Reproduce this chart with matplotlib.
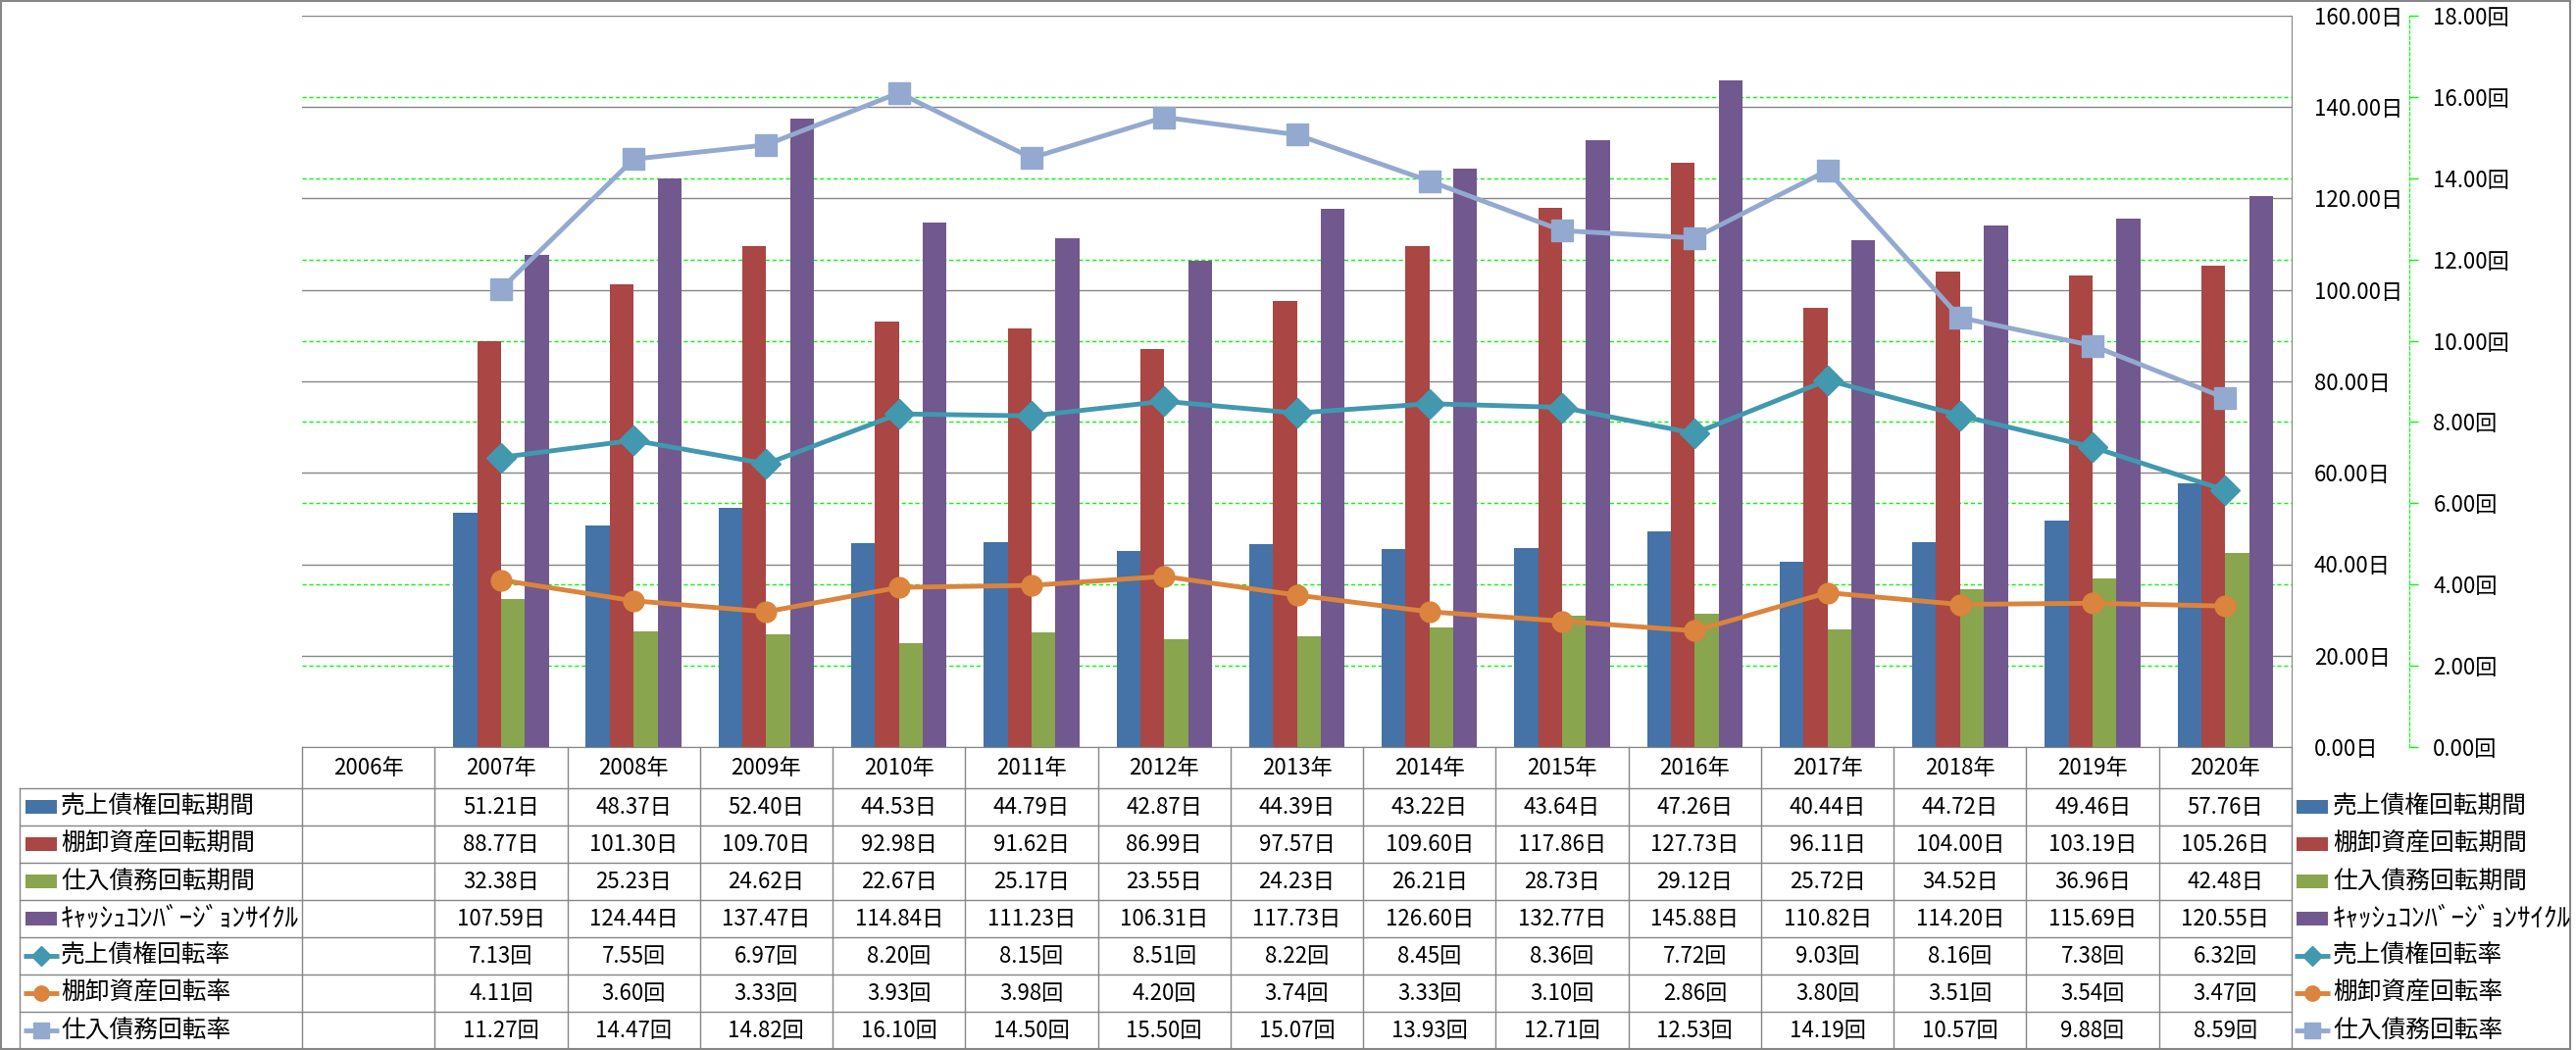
"""
Turnover periods / turnover ratios chart with an Excel-style data table.
"""

import numpy as np
import matplotlib.pyplot as plt
import matplotlib.transforms as mtransforms
from matplotlib.patches import Rectangle

plt.rcParams['font.family'] = ['Noto Sans CJK JP', 'DejaVu Sans']

# Data
years = ['2006年', '2007年', '2008年', '2009年', '2010年', '2011年', '2012年', '2013年',
         '2014年', '2015年', '2016年', '2017年', '2018年', '2019年', '2020年']

ar_days = [51.21, 48.37, 52.40, 44.53, 44.79, 42.87, 44.39, 43.22, 43.64, 47.26, 40.44, 44.72, 49.46, 57.76]
inv_days = [88.77, 101.30, 109.70, 92.98, 91.62, 86.99, 97.57, 109.60, 117.86, 127.73, 96.11, 104.00, 103.19, 105.26]
ap_days = [32.38, 25.23, 24.62, 22.67, 25.17, 23.55, 24.23, 26.21, 28.73, 29.12, 25.72, 34.52, 36.96, 42.48]
ccc_days = [107.59, 124.44, 137.47, 114.84, 111.23, 106.31, 117.73, 126.60, 132.77, 145.88, 110.82, 114.20, 115.69, 120.55]

ar_turn = [7.13, 7.55, 6.97, 8.20, 8.15, 8.51, 8.22, 8.45, 8.36, 7.72, 9.03, 8.16, 7.38, 6.32]
inv_turn = [4.11, 3.60, 3.33, 3.93, 3.98, 4.20, 3.74, 3.33, 3.10, 2.86, 3.80, 3.51, 3.54, 3.47]
ap_turn = [11.27, 14.47, 14.82, 16.10, 14.50, 15.50, 15.07, 13.93, 12.71, 12.53, 14.19, 10.57, 9.88, 8.59]

bar_series = [
    ('売上債権回転期間', ar_days, '#4572A7'),
    ('棚卸資産回転期間', inv_days, '#AA4643'),
    ('仕入債務回転期間', ap_days, '#89A54E'),
    ('ｷｬｯｼｭｺﾝﾊﾞｰｼﾞｮﾝｻｲｸﾙ', ccc_days, '#71588F'),
]
line_series = [
    ('売上債権回転率', ar_turn, '#4198AF', 'D', 15, 10),
    ('棚卸資産回転率', inv_turn, '#DB843D', 'o', 15, 11),
    ('仕入債務回転率', ap_turn, '#93A9CF', 's', 16, 12),
]

# Layout in pixels
W, H = 2627, 1071
PL, PR, PT, PB = 308, 2337, 16, 762
ROW_TOP, ROW_H = 804, 38
LAB_L = 20
GRAY = '#868686'
GREEN = '#00FF00'

fig = plt.figure(figsize=(W / 100, H / 100), dpi=100)
ax1 = fig.add_axes([PL / W, 1 - PB / H, (PR - PL) / W, (PB - PT) / H])
ax2 = ax1.twinx()

ax1.set_xlim(-0.5, len(years) - 0.5)
ax1.set_ylim(0, 160)
ax1.set_yticks(np.arange(0, 161, 20))
ax1.yaxis.set_major_formatter(lambda v, p: f'{v:.2f}日')
ax1.yaxis.tick_right()
ax1.tick_params(axis='y', length=0, pad=16.5, labelsize=16)
ax1.set_xticks([])
ax1.grid(axis='y', color=GRAY, lw=1)
ax1.set_axisbelow(True)
ax1.spines['left'].set_visible(False)
ax1.spines['top'].set_visible(False)
ax1.spines['right'].set_color(GRAY)
ax1.spines['bottom'].set_color(GRAY)

ax2.set_ylim(0, 18)
ax2.set_yticks(np.arange(0, 19, 2))
ax2.yaxis.set_major_formatter(lambda v, p: f'{v:.2f}回')
ax2.tick_params(axis='y', direction='out', length=6.5, width=1, color=GREEN, pad=11, labelsize=16)
for s in ['left', 'top', 'bottom']:
    ax2.spines[s].set_visible(False)
ax2.spines['right'].set_position(('axes', (2457 - PL) / (PR - PL)))
ax2.spines['right'].set_color(GREEN)
ax2.spines['right'].set_linestyle((0, (3, 2)))

# secondary gridlines drawn behind the bars
scale = ax1.get_ylim()[1] / ax2.get_ylim()[1]
for t in ax2.get_yticks()[1:-1]:
    ax1.axhline(t * scale, color=GREEN, lw=1, ls=(0, (3, 2)), zorder=0.8)

x = np.arange(1, len(years))
bw = 0.18
for k, (name, vals, color) in enumerate(bar_series):
    ax1.bar(x + (k - 1.5) * bw, vals, bw, color=color, zorder=2)

for name, vals, color, m, ms, _ in line_series:
    ax2.plot(x, vals, color=color, lw=3.5, marker=m, ms=ms, mfc=color, mec=color,
             zorder=3, clip_on=False)

# Overlay for the data table and legend
ov = fig.add_axes([0, 0, 1, 1])
ov.set_xlim(0, W)
ov.set_ylim(H, 0)
ov.axis('off')
ov.patch.set_alpha(0)

ov.add_patch(Rectangle((1, 1), W - 7, H - 2, fill=False, ec=GRAY, lw=1.5))

bottom = ROW_TOP + 7 * ROW_H
col_w = (PR - PL) / len(years)
for i in range(len(years) + 1):
    xx = PL + i * col_w
    ov.plot([xx, xx], [PB, bottom], color=GRAY, lw=1)
for k in range(8):
    yy = ROW_TOP + k * ROW_H
    ov.plot([LAB_L, PR], [yy, yy], color=GRAY, lw=1)
ov.plot([LAB_L, LAB_L], [ROW_TOP, bottom], color=GRAY, lw=1)

trans = mtransforms.blended_transform_factory(ax1.transData, ov.transData)
for i, yr in enumerate(years):
    ov.text(i, (PB + ROW_TOP) / 2, yr, transform=trans, ha='center', va='center', fontsize=16)

rows = [(name, vals, '日', ('bar', color)) for name, vals, color in bar_series] + \
       [(name, vals, '回', ('line', color, m, lms)) for name, vals, color, m, ms, lms in line_series]


def draw_key(x0, yc, key):
    if key[0] == 'bar':
        ov.add_patch(Rectangle((x0 + 2, yc - 7), 32, 14, color=key[1], lw=0))
    else:
        _, color, m, lms = key
        ov.plot([x0, x0 + 36], [yc, yc], color=color, lw=3.5, solid_capstyle='butt')
        ov.plot([x0 + 18], [yc], marker=m, ms=lms, color=color, mec=color)


for r, (name, vals, unit, key) in enumerate(rows):
    yc = ROW_TOP + (r + 0.5) * ROW_H
    for j, v in enumerate(vals):
        ov.text(j + 1, yc, f'{v:.2f}{unit}', transform=trans, ha='center', va='center', fontsize=16)
    fs = 19.5 if name.startswith('ｷ') else 17.8
    # row label inside the table
    draw_key(24, yc, key)
    ov.text(62, yc, name, ha='left', va='center', fontsize=fs)
    # legend on the right
    draw_key(2340, yc, key)
    ov.text(2379, yc, name, ha='left', va='center', fontsize=fs)

fig.savefig('out.png', dpi=100)
